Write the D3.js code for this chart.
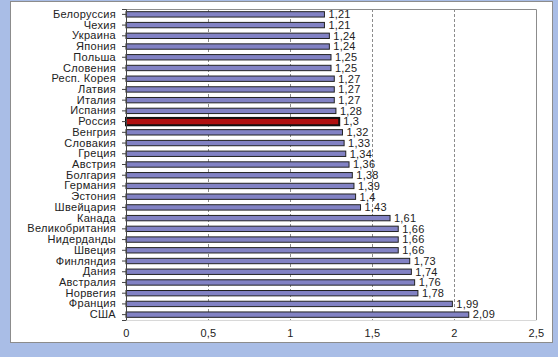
<!DOCTYPE html>
<html><head><meta charset="utf-8">
<script src="https://cdn.jsdelivr.net/npm/d3@7"></script>
<style>
html,body{margin:0;padding:0;background:#a9bde6;}
svg{display:block;}
text{font-family:"Liberation Sans",Arial,sans-serif;fill:#222;}
</style></head><body>
<svg id="c" width="558" height="357"></svg>
<script>
const countries = ["Белоруссия","Чехия","Украина","Япония","Польша","Словения","Респ. Корея","Латвия","Италия","Испания","Россия","Венгрия","Словакия","Греция","Австрия","Болгария","Германия","Эстония","Швейцария","Канада","Великобритания","Нидерданды","Швеция","Финляндия","Дания","Австралия","Норвегия","Франция","США"];
const values = [1.21,1.21,1.24,1.24,1.25,1.25,1.27,1.27,1.27,1.28,1.3,1.32,1.33,1.34,1.36,1.38,1.39,1.4,1.43,1.61,1.66,1.66,1.66,1.73,1.74,1.76,1.78,1.99,2.09];
const valueLabels = ["1,21","1,21","1,24","1,24","1,25","1,25","1,27","1,27","1,27","1,28","1,3","1,32","1,33","1,34","1,36","1,38","1,39","1,4","1,43","1,61","1,66","1,66","1,66","1,73","1,74","1,76","1,78","1,99","2,09"];
const ticks = [0,0.5,1,1.5,2,2.5];
const tickLabels = ["0","0,5","1","1,5","2","2,5"];
const highlight = "Россия";

const svg = d3.select("#c");
// panel
svg.append("rect").attr("x",10.5).attr("y",1.5).attr("width",542).attr("height",341)
  .attr("fill","#fff").attr("stroke","#8c8c8c").attr("stroke-width",1);

const L=126, R=536, T=9, B=320;
const x = d3.scaleLinear().domain([0,2.5]).range([L,R]);
const y = d3.scaleBand().domain(countries).range([T,B]).paddingInner(0.5).paddingOuter(0.25);

// gridlines
svg.append("g").selectAll("line").data(ticks.filter(t=>t>0 && t<2.5)).join("line")
  .attr("x1",d=>Math.round(x(d))+0.5).attr("x2",d=>Math.round(x(d))+0.5)
  .attr("y1",T).attr("y2",B)
  .attr("stroke","#8c8c8c").attr("stroke-dasharray","3,2").attr("stroke-width",1);

// plot border top/right
svg.append("path").attr("d",`M${L},${T+0.5}H${R+0.5}V${B}`).attr("fill","none").attr("stroke","#8c8c8c");

// bars
const bw = y.bandwidth();
svg.append("g").selectAll("rect").data(countries).join("rect")
  .attr("x",L)
  .attr("y",(d)=> d===highlight ? y(d)-1 : y(d))
  .attr("width",(d,i)=>x(values[i])-L)
  .attr("height",d=> d===highlight ? bw+2 : bw)
  .attr("fill",d=> d===highlight ? "#b01010" : "#8282c4")
  .attr("stroke",d=> d===highlight ? "#111" : "#222")
  .attr("stroke-width",d=> d===highlight ? 2 : 1);

// value labels
svg.append("g").selectAll("text").data(countries).join("text")
  .attr("x",(d,i)=>x(values[i])+4)
  .attr("y",d=>y(d)+bw/2)
  .attr("dy","0.35em")
  .attr("font-size",11)
  .attr("letter-spacing","0.2px")
  .text((d,i)=>valueLabels[i]);

// category axis
const yAxis = d3.axisLeft(y).tickSize(4).tickPadding(6);
const gy = svg.append("g").attr("transform",`translate(${L},0)`).call(yAxis);
gy.select(".domain").attr("stroke","#444");
gy.selectAll(".tick line").attr("stroke","#444");
gy.selectAll("text").attr("font-size",11).attr("letter-spacing","0.3px").attr("fill","#222").style("font-family","'Liberation Sans',Arial,sans-serif");

// value axis (labels only)
const xAxis = d3.axisBottom(x).tickValues(ticks).tickFormat((d,i)=>tickLabels[i]).tickSize(0).tickPadding(9);
const gx = svg.append("g").attr("transform",`translate(0,${B})`).call(xAxis);
gx.select(".domain").attr("stroke","#d8d8d8");
gx.selectAll("text").attr("font-size",11).attr("letter-spacing","0.2px").attr("fill","#222").style("font-family","'Liberation Sans',Arial,sans-serif");
</script>
</body></html>
